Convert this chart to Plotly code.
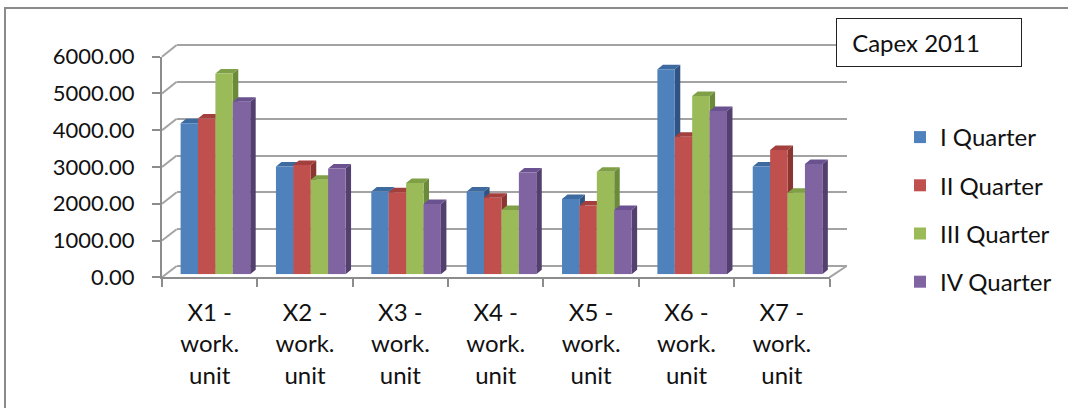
import plotly.graph_objects as go

# ---------------- data ----------------
categories = ["X1 -<br>work.<br>unit", "X2 -<br>work.<br>unit", "X3 -<br>work.<br>unit",
              "X4 -<br>work.<br>unit", "X5 -<br>work.<br>unit", "X6 -<br>work.<br>unit",
              "X7 -<br>work.<br>unit"]
series_names = ["I Quarter", "II Quarter", "III Quarter", "IV Quarter"]
q1 = [4110, 2930, 2250, 2250, 2050, 5580, 2930]
q2 = [4240, 2970, 2230, 2080, 1870, 3740, 3380]
q3 = [5460, 2570, 2480, 1750, 2790, 4850, 2220]
q4 = [4690, 2880, 1910, 2770, 1750, 4440, 3000]
y_ticks = [0, 1000, 2000, 3000, 4000, 5000, 6000]
title_text = "Capex 2011"

series = [q1, q2, q3, q4]
front_colors = ["#4F81BD", "#C0504D", "#9BBB59", "#8064A2"]
top_colors = ["#3E6B9F", "#A33F3C", "#7FA046", "#6A5290"]
side_colors = ["#2F5382", "#8B3532", "#6B8A3A", "#54406F"]

# ---------------- geometry (target pixels in the 1068x408 view) ----------------
W, H = 1068, 408
FONT = "Lato"
TXT = "#111111"
AXC = "#8c8c8c"
GRC = "#a3a3a3"


def fx(px):
    return px / W


def fy(py):
    return 1 - py / H


FX0, FX1 = 162.0, 829.5     # front floor edge
FY0, FY1 = 277.3, 56.7      # front axis 0 / 6000
BX0, BX1 = 176.7, 846.7     # back wall
BY0, BY1 = 266.0, 45.0      # back wall 0 / 6000
BAR0 = 274.3                # bar base (pixel)
ymax = y_ticks[-1]
scale = (FY0 - FY1) / ymax  # px per unit
BAR1 = BAR0 - ymax * scale

ncat = len(categories)
cat_px = (FX1 - FX0) / ncat
bar_w = 17.4 / cat_px
group_left = 18.6 / cat_px
depth_dx = 5.5 / cat_px
depth_dy = 4.5 / scale

fig = go.Figure()

fig.add_trace(go.Scatter(x=[0.5], y=[None], mode="markers", showlegend=False,
                         hoverinfo="skip", xaxis="x", yaxis="y"))
fig.add_trace(go.Scatter(x=[0], y=[None], mode="markers", showlegend=False,
                         hoverinfo="skip", xaxis="x2", yaxis="y2"))

for j, vals in enumerate(series):
    side_x, side_y, top_x, top_y = [], [], [], []
    for i, v in enumerate(vals):
        xl = i - 0.5 + group_left + j * bar_w
        xr = xl + bar_w
        side_x += [xr, xr, xr + depth_dx, xr + depth_dx, xr, None]
        side_y += [0, v, v + depth_dy, depth_dy, 0, None]
        top_x += [xl, xr, xr + depth_dx, xl + depth_dx, xl, None]
        top_y += [v, v, v + depth_dy, v + depth_dy, v, None]
    fig.add_trace(go.Scatter(x=side_x, y=side_y, mode="none", fill="toself",
                             fillcolor=side_colors[j], showlegend=False,
                             hoverinfo="skip", xaxis="x3", yaxis="y3"))
    fig.add_trace(go.Scatter(x=top_x, y=top_y, mode="none", fill="toself",
                             fillcolor=top_colors[j], showlegend=False,
                             hoverinfo="skip", xaxis="x3", yaxis="y3"))

for j, vals in enumerate(series):
    centers = [i - 0.5 + group_left + (j + 0.5) * bar_w for i in range(ncat)]
    fig.add_trace(go.Bar(x=centers, y=vals, width=bar_w, name=series_names[j],
                         legendgroup=series_names[j],
                         marker=dict(color=front_colors[j], line=dict(width=0)),
                         xaxis="x4", yaxis="y4"))

pad_units = 30
pad_px = pad_units * (BY0 - BY1) / ymax

fig.update_layout(
    width=W, height=H, autosize=False,
    margin=dict(l=0, r=0, t=0, b=0, pad=0, autoexpand=False),
    paper_bgcolor="white", plot_bgcolor="rgba(0,0,0,0)",
    barmode="overlay",
    font=dict(family=FONT, color=TXT, size=22),
    showlegend=True,
    legend=dict(x=fx(900), xanchor="left", y=fy(115), yanchor="top",
                font=dict(family=FONT, size=24, color=TXT),
                tracegroupgap=14, bgcolor="rgba(0,0,0,0)"),
    xaxis=dict(domain=[fx(BX0), fx(BX1)], range=[0, 1], visible=False, anchor="y",
               automargin=False),
    yaxis=dict(domain=[fy(BY0 + pad_px), fy(BY1 - pad_px)], range=[-pad_units, ymax + pad_units],
               tickvals=y_ticks, showticklabels=False, ticks="", showgrid=True,
               gridcolor=GRC, gridwidth=2, zeroline=False, showline=False, anchor="x",
               automargin=False),
    xaxis2=dict(domain=[fx(FX0), fx(FX1)], range=[-0.5, ncat - 0.5], anchor="y2",
                tickmode="array", tickvals=list(range(ncat)), ticktext=categories,
                ticks="", showgrid=False, zeroline=False,
                showline=True, linecolor=AXC, linewidth=2,
                minor=dict(tickmode="array", tickvals=[i - 0.5 for i in range(ncat + 1)],
                           ticks="outside", ticklen=8, tickwidth=2, tickcolor=AXC,
                           showgrid=False),
                tickfont=dict(family=FONT, size=24, color=TXT),
                ticklabelstandoff=13, automargin=False),
    yaxis2=dict(domain=[fy(FY0), fy(FY1)], range=[0, ymax], anchor="x2",
                tickmode="array", tickvals=y_ticks, tickformat=".2f",
                ticks="outside", ticklen=8, tickwidth=2, tickcolor=AXC,
                showline=True, linecolor=AXC, linewidth=2,
                showgrid=False, zeroline=False,
                tickfont=dict(family=FONT, size=22, color=TXT),
                ticklabelstandoff=13, automargin=False),
    xaxis3=dict(domain=[fx(FX0), fx(FX1)], range=[-0.5, ncat - 0.5], visible=False, anchor="y3",
                automargin=False),
    yaxis3=dict(domain=[fy(BAR0), fy(BAR1)], range=[0, ymax], visible=False, anchor="x3",
                automargin=False),
    xaxis4=dict(range=[-0.5, ncat - 0.5], visible=False, overlaying="x3", anchor="y4",
                automargin=False),
    yaxis4=dict(range=[0, ymax], visible=False, overlaying="y3", anchor="x4",
                automargin=False),
)

shapes = []
shapes.append(dict(type="rect", xref="paper", yref="paper",
                   x0=fx(5), x1=fx(1068 + 20), y0=fy(408 + 20), y1=fy(8),
                   line=dict(color="#8a8a8a", width=2), fillcolor="rgba(0,0,0,0)", layer="below"))
for t in y_ticks:
    frac = t / ymax
    shapes.append(dict(type="line", xref="paper", yref="paper",
                       x0=fx(FX0), y0=fy(FY0 - frac * (FY0 - FY1)),
                       x1=fx(BX0), y1=fy(BY0 - frac * (BY0 - BY1)),
                       line=dict(color=GRC, width=2), layer="below"))
shapes.append(dict(type="line", xref="paper", yref="paper",
                   x0=fx(FX1), y0=fy(FY0), x1=fx(BX1), y1=fy(BY0),
                   line=dict(color=GRC, width=2), layer="below"))
fig.update_layout(shapes=shapes)

fig.add_annotation(xref="paper", yref="paper", x=fx(836), y=fy(18),
                   xanchor="left", yanchor="top", text="\u00a0" + title_text,
                   showarrow=False, align="left", width=166, height=29,
                   borderpad=9, bordercolor="#222222", borderwidth=1,
                   bgcolor="white", font=dict(family=FONT, size=24, color=TXT))

fig.write_html("out.html", config={"responsive": False, "displayModeBar": False},
               post_script="document.body.style.margin='0';document.body.style.overflow='hidden';")
